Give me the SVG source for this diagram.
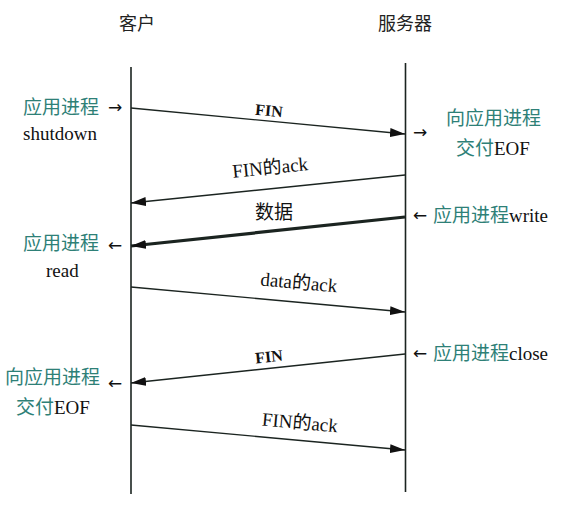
<svg xmlns="http://www.w3.org/2000/svg" width="562" height="508" viewBox="0 0 562 508">
<style>
text{font-family:"Liberation Serif","Noto Sans CJK SC",serif;font-size:19px;fill:#111}
.t{fill:#2e8077}
.title{font-size:18px;fill:#222}
.lab{text-anchor:middle}
.b{font-weight:bold;font-size:16px}
.ar{font-family:"DejaVu Sans",sans-serif;font-size:17px}
.life{stroke:#1b2420;stroke-width:1.6;fill:none}
.msg{stroke:#1b2420;stroke-width:1.4;fill:none}
.thick{stroke-width:3.2}
</style>
<defs>
<marker id="ah" markerUnits="userSpaceOnUse" markerWidth="16" markerHeight="10" refX="15" refY="4.5" orient="auto">
<path d="M0,0 L15,4.5 L0,9 Z" fill="#111"/>
</marker>
</defs>
<rect width="562" height="508" fill="#fff"/>
<g id="client">
<text class="title" x="119" y="30">客户</text>
<line class="life" x1="131" y1="67" x2="131" y2="494"/>
</g>
<g id="server">
<text class="title" x="378" y="30">服务器</text>
<line class="life" x1="405.5" y1="63" x2="405.5" y2="492"/>
</g>
<g id="connectors">
<line class="msg" x1="131" y1="108" x2="405" y2="134" marker-end="url(#ah)"/>
<line class="msg" x1="405" y1="175" x2="131" y2="203" marker-end="url(#ah)"/>
<line class="msg thick" x1="405" y1="217" x2="131" y2="246" marker-end="url(#ah)"/>
<line class="msg" x1="131" y1="287" x2="405" y2="312" marker-end="url(#ah)"/>
<line class="msg" x1="405" y1="354" x2="131" y2="383" marker-end="url(#ah)"/>
<line class="msg" x1="131" y1="425" x2="405" y2="450" marker-end="url(#ah)"/>
</g>
<g id="msg-labels">
<text class="lab b" x="269" y="116" transform="rotate(5.4 269 111)">FIN</text>
<text class="lab" x="270" y="174" transform="rotate(-5.8 270 167)">FIN的ack</text>
<text class="lab" x="274" y="219">数据</text>
<text class="lab" x="299" y="289" transform="rotate(5.2 299 282)">data的ack</text>
<text class="lab b" x="269" y="362" transform="rotate(-6 269 357)">FIN</text>
<text class="lab" x="300" y="429" transform="rotate(5.2 300 422)">FIN的ack</text>
</g>
<g id="client-shutdown">
<text class="t" x="23" y="114">应用进程</text>
<text class="ar" x="108" y="113">→</text>
<text x="23" y="140">shutdown</text>
</g>
<g id="server-eof">
<text class="ar" x="413" y="138">→</text>
<text class="t" x="446" y="125">向应用进程</text>
<text x="456" y="155"><tspan class="t">交付</tspan>EOF</text>
</g>
<g id="server-write">
<text class="ar" x="413" y="221">←</text>
<text x="433" y="222"><tspan class="t">应用进程</tspan>write</text>
</g>
<g id="client-read">
<text class="t" x="23" y="250">应用进程</text>
<text class="ar" x="108" y="251">←</text>
<text x="46" y="277">read</text>
</g>
<g id="server-close">
<text class="ar" x="413" y="359">←</text>
<text x="433" y="360"><tspan class="t">应用进程</tspan>close</text>
</g>
<g id="client-eof">
<text class="t" x="5" y="384">向应用进程</text>
<text class="ar" x="108" y="389">←</text>
<text x="16" y="414"><tspan class="t">交付</tspan>EOF</text>
</g>
</svg>
